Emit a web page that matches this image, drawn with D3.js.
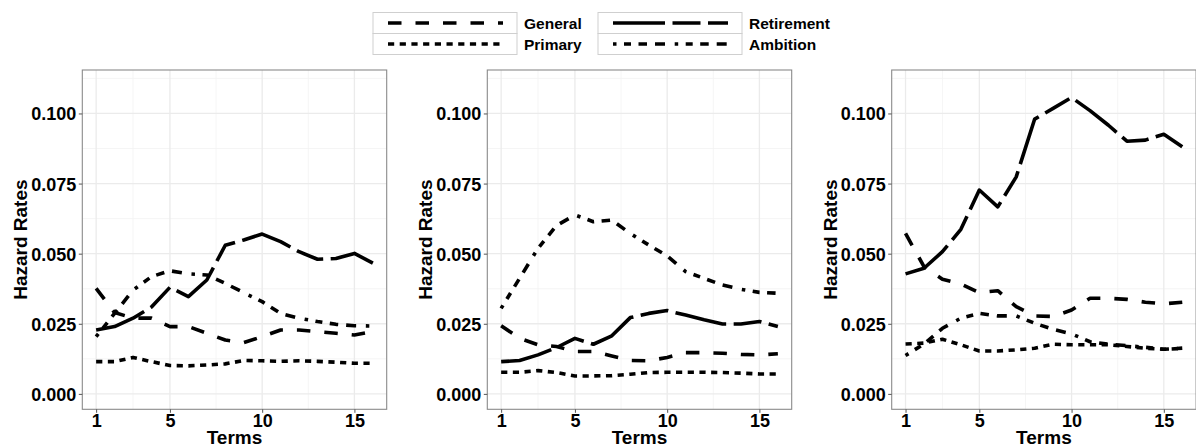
<!DOCTYPE html>
<html>
<head>
<meta charset="utf-8">
<script src="https://cdn.jsdelivr.net/npm/d3@7"></script>
<style>
  body { margin: 0; background: #fff; }
  text { font-family: "Liberation Sans", Arial, sans-serif; font-weight: bold; fill: #000; }
</style>
</head>
<body>
<div id="chart"></div>
<script>
// x categories
var terms = [1, 2, 3, 4, 5, 6, 7, 8, 9, 10, 11, 12, 13, 14, 15, 16];
var xTicks = [1, 5, 10, 15];
var yTicks = [0, 0.025, 0.05, 0.075, 0.1];

// panel 1
var general1    = [0.0376, 0.0290, 0.0270, 0.0270, 0.0240, 0.0240, 0.0216, 0.0192, 0.0183, 0.0204, 0.0228, 0.0228, 0.0222, 0.0216, 0.0210, 0.0222];
var retirement1 = [0.0228, 0.0240, 0.0270, 0.0310, 0.0380, 0.0347, 0.0406, 0.0530, 0.0549, 0.0570, 0.0543, 0.0507, 0.0480, 0.0483, 0.0501, 0.0466];
var primary1    = [0.0115, 0.0115, 0.0130, 0.0115, 0.0101, 0.0100, 0.0103, 0.0107, 0.0119, 0.0118, 0.0116, 0.0118, 0.0116, 0.0113, 0.0109, 0.0109];
var ambition1   = [0.0204, 0.0287, 0.0370, 0.0418, 0.0439, 0.0428, 0.0424, 0.0394, 0.0361, 0.0329, 0.0287, 0.0270, 0.0258, 0.0248, 0.0243, 0.0242];

// panel 2
var general2    = [0.0243, 0.0198, 0.0175, 0.0169, 0.0151, 0.0151, 0.0135, 0.0119, 0.0118, 0.0130, 0.0147, 0.0147, 0.0145, 0.0141, 0.0139, 0.0143];
var retirement2 = [0.0115, 0.0119, 0.0139, 0.0165, 0.0198, 0.0177, 0.0207, 0.0272, 0.0287, 0.0297, 0.0281, 0.0264, 0.0249, 0.0249, 0.0258, 0.0240];
var primary2    = [0.0077, 0.0077, 0.0083, 0.0076, 0.0064, 0.0064, 0.0065, 0.0070, 0.0076, 0.0077, 0.0077, 0.0077, 0.0076, 0.0074, 0.0071, 0.0071];
var ambition2   = [0.0305, 0.0412, 0.0519, 0.0600, 0.0638, 0.0614, 0.0620, 0.0572, 0.0531, 0.0492, 0.0436, 0.0412, 0.0388, 0.0373, 0.0362, 0.0359];

// panel 3
var general3    = [0.0572, 0.0454, 0.0409, 0.0392, 0.0361, 0.0368, 0.0311, 0.0278, 0.0276, 0.0299, 0.0341, 0.0341, 0.0337, 0.0327, 0.0321, 0.0327];
var retirement3 = [0.0428, 0.0448, 0.0507, 0.0587, 0.0727, 0.0667, 0.0774, 0.0980, 0.1018, 0.1057, 0.1010, 0.0958, 0.0901, 0.0905, 0.0926, 0.0881];
var primary3    = [0.0178, 0.0181, 0.0195, 0.0175, 0.0153, 0.0153, 0.0157, 0.0163, 0.0177, 0.0175, 0.0175, 0.0175, 0.0169, 0.0163, 0.0159, 0.0162];
var ambition3   = [0.0137, 0.0178, 0.0234, 0.0270, 0.0287, 0.0278, 0.0278, 0.0252, 0.0230, 0.0214, 0.0186, 0.0177, 0.0172, 0.0166, 0.0159, 0.0163];

var seriesNames = ["General", "Primary", "Retirement", "Ambition"];
var dashes = {
    "General": "13.5,14",
    "Primary": "6.2,5.5",
    "Retirement": "52,7.5,28,7.5",
    "Ambition": "3.5,7.5,7,7.5,8.5,8,10,9.7"
};

var panels = [
    { left: 82.3, data: { "General": general1, "Primary": primary1, "Retirement": retirement1, "Ambition": ambition1 } },
    { left: 487.3, data: { "General": general2, "Primary": primary2, "Retirement": retirement2, "Ambition": ambition2 } },
    { left: 891.7, data: { "General": general3, "Primary": primary3, "Retirement": retirement3, "Ambition": ambition3 } }
];

var W = 1196, H = 447;
var panelW = 304.4, plotTop = 70, plotBottom = 409.3;

var svg = d3.select("#chart").append("svg")
    .attr("width", W)
    .attr("height", H);

var x = d3.scaleLinear().domain([0.25, 16.75]).range([0, panelW]);
var y = d3.scaleLinear().domain([-0.0055, 0.1155]).range([plotBottom - plotTop, 0]);

panels.forEach(function (p) {
    var g = svg.append("g").attr("transform", "translate(" + p.left + "," + plotTop + ")");
    var ph = plotBottom - plotTop;

    // minor grid
    [3, 7.5, 12.5].forEach(function (v) {
        g.append("line").attr("x1", x(v)).attr("x2", x(v)).attr("y1", 0).attr("y2", ph)
            .attr("stroke", "#f2f2f2").attr("stroke-width", 0.8);
    });
    [0.0125, 0.0375, 0.0625, 0.0875, 0.1125].forEach(function (v) {
        g.append("line").attr("x1", 0).attr("x2", panelW).attr("y1", y(v)).attr("y2", y(v))
            .attr("stroke", "#f2f2f2").attr("stroke-width", 0.8);
    });
    // major grid
    xTicks.forEach(function (v) {
        g.append("line").attr("x1", x(v)).attr("x2", x(v)).attr("y1", 0).attr("y2", ph)
            .attr("stroke", "#ebebeb").attr("stroke-width", 1.3);
    });
    yTicks.forEach(function (v) {
        g.append("line").attr("x1", 0).attr("x2", panelW).attr("y1", y(v)).attr("y2", y(v))
            .attr("stroke", "#ebebeb").attr("stroke-width", 1.3);
    });

    var line = d3.line()
        .x(function (d, i) { return x(terms[i]); })
        .y(function (d) { return y(d); });

    seriesNames.forEach(function (name) {
        g.append("path")
            .datum(p.data[name])
            .attr("d", line)
            .attr("fill", "none")
            .attr("stroke", "#000")
            .attr("stroke-width", 3.6)
            .attr("stroke-linecap", "butt")
            .attr("stroke-linejoin", "round")
            .attr("stroke-dasharray", dashes[name]);
    });

    // border
    g.append("rect").attr("x", 0).attr("y", 0).attr("width", panelW).attr("height", ph)
        .attr("fill", "none").attr("stroke", "#8a8a8a").attr("stroke-width", 1.1);

    // axes
    var yAxis = d3.axisLeft(y).tickValues(yTicks).tickSize(3.5).tickPadding(2.5)
        .tickFormat(d3.format(".3f"));
    var ya = g.append("g").call(yAxis);
    ya.select(".domain").remove();
    ya.selectAll(".tick line").attr("stroke", "#555");
    ya.selectAll(".tick text").style("font-size", "18px").attr("dy", "0.36em");

    var xAxis = d3.axisBottom(x).tickValues(xTicks).tickSize(3.5).tickPadding(1);
    var xa = g.append("g").attr("transform", "translate(0," + ph + ")").call(xAxis);
    xa.select(".domain").remove();
    xa.selectAll(".tick line").attr("stroke", "#555");
    xa.selectAll(".tick text").style("font-size", "18px");

    g.append("text")
        .attr("x", panelW / 2).attr("y", H - plotTop - 3.5)
        .attr("text-anchor", "middle")
        .style("font-size", "19px")
        .text("Terms");

    g.append("text")
        .attr("transform", "translate(-62," + (ph / 2) + ") rotate(-90)")
        .attr("text-anchor", "middle")
        .attr("dy", "0.36em")
        .style("font-size", "19px")
        .text("Hazard Rates");
});

// legend
var legendItems = [
    { name: "General", bx: 373, row: 0 },
    { name: "Primary", bx: 373, row: 1 },
    { name: "Retirement", bx: 598, row: 0 },
    { name: "Ambition", bx: 598, row: 1 }
];
var keyW = 144, keyH = 21, legTop = 12.5;
legendItems.forEach(function (it) {
    var ky = legTop + it.row * keyH;
    svg.append("rect").attr("x", it.bx).attr("y", ky).attr("width", keyW).attr("height", keyH)
        .attr("fill", "#fff").attr("stroke", "#cfcfcf").attr("stroke-width", 1);
    svg.append("line")
        .attr("x1", it.bx + 15).attr("x2", it.bx + keyW - 14)
        .attr("y1", ky + keyH / 2).attr("y2", ky + keyH / 2)
        .attr("stroke", "#000").attr("stroke-width", 3.6)
        .attr("stroke-dasharray", dashes[it.name]);
    svg.append("text")
        .attr("x", it.bx + keyW + 7).attr("y", ky + keyH / 2)
        .attr("dy", "0.36em")
        .style("font-size", "15.5px")
        .text(it.name);
});
</script>
</body>
</html>
